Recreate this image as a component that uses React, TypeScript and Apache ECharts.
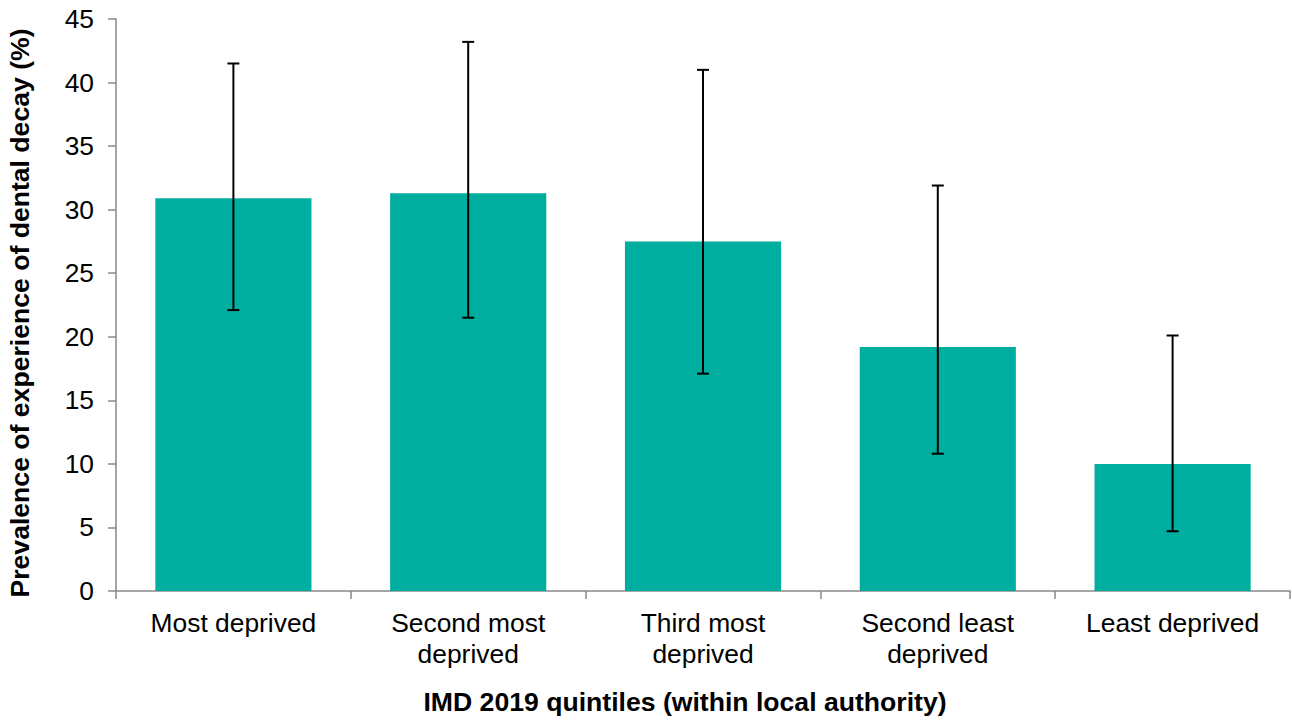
import React, { useEffect, useRef } from "react";
import * as echarts from "echarts";

const categories = [
  "Most deprived",
  "Second most\ndeprived",
  "Third most\ndeprived",
  "Second least\ndeprived",
  "Least deprived",
];
const prevalence = [30.9, 31.3, 27.5, 19.2, 10.0];
const lowerCI = [22.1, 21.5, 17.1, 10.8, 4.7];
const upperCI = [41.5, 43.2, 41.0, 31.9, 20.1];
const yTicks = { min: 0, max: 45, interval: 5 };

const FONT = "'Liberation Sans', Arial, sans-serif";

export default function App() {
  const ref = useRef<HTMLDivElement>(null);
  useEffect(() => {
    if (!ref.current) return;
    const chart = echarts.init(ref.current, undefined, { renderer: "svg" });
    const errData = categories.map((_, i) => [i, lowerCI[i], upperCI[i]]);
    chart.setOption({
      animation: false,
      backgroundColor: "#ffffff",
      textStyle: { fontFamily: FONT },
      grid: { left: 116, right: 2, top: 19, bottom: 129, containLabel: false },
      xAxis: {
        type: "category",
        data: categories,
        axisLine: { show: true, lineStyle: { color: "#898989", width: 1.5 } },
        axisTick: { show: true, length: 8, lineStyle: { color: "#898989", width: 1.5 } },
        axisLabel: {
          interval: 0,
          color: "#000",
          fontSize: 26.4,
          lineHeight: 31,
          margin: 16,
          fontFamily: FONT,
        },
        splitLine: { show: false },
      },
      yAxis: {
        type: "value",
        min: yTicks.min,
        max: yTicks.max,
        interval: yTicks.interval,
        axisLine: { show: true, lineStyle: { color: "#898989", width: 1.5 } },
        axisTick: { show: true, length: 8, lineStyle: { color: "#898989", width: 1.5 } },
        axisLabel: { color: "#000", fontSize: 26.4, margin: 22, fontFamily: FONT },
        splitLine: { show: false },
      },
      graphic: [
        {
          type: "text",
          x: 685,
          y: 702,
          style: {
            text: "IMD 2019 quintiles (within local authority)",
            fontSize: 26.6,
            fontWeight: "bold",
            fontFamily: FONT,
            fill: "#000",
            textAlign: "center",
            textVerticalAlign: "middle",
          },
        },
        {
          type: "text",
          x: 20,
          y: 313,
          rotation: Math.PI / 2,
          style: {
            text: "Prevalence of experience of dental decay (%)",
            fontSize: 26.6,
            fontWeight: "bold",
            fontFamily: FONT,
            fill: "#000",
            textAlign: "center",
            textVerticalAlign: "middle",
          },
        },
      ],
      series: [
        {
          type: "bar",
          data: prevalence,
          barCategoryGap: "33.5%",
          itemStyle: { color: "#00AE9F" },
        },
        {
          type: "custom",
          data: errData,
          encode: { x: 0, y: [1, 2] },
          z: 10,
          renderItem: (params: any, api: any) => {
            const idx = api.value(0);
            const lo = api.coord([idx, api.value(1)]);
            const hi = api.coord([idx, api.value(2)]);
            const hw = 6;
            const st = { stroke: "#000", lineWidth: 2 };
            return {
              type: "group",
              children: [
                { type: "line", shape: { x1: lo[0], y1: lo[1], x2: hi[0], y2: hi[1] }, style: st },
                { type: "line", shape: { x1: lo[0] - hw, y1: lo[1], x2: lo[0] + hw, y2: lo[1] }, style: st },
                { type: "line", shape: { x1: hi[0] - hw, y1: hi[1], x2: hi[0] + hw, y2: hi[1] }, style: st },
              ],
            };
          },
        },
      ],
    });
    return () => chart.dispose();
  }, []);
  return (
    <div
      ref={ref}
      style={{ position: "absolute", left: 0, top: 0, width: 1292, height: 720 }}
    />
  );
}
